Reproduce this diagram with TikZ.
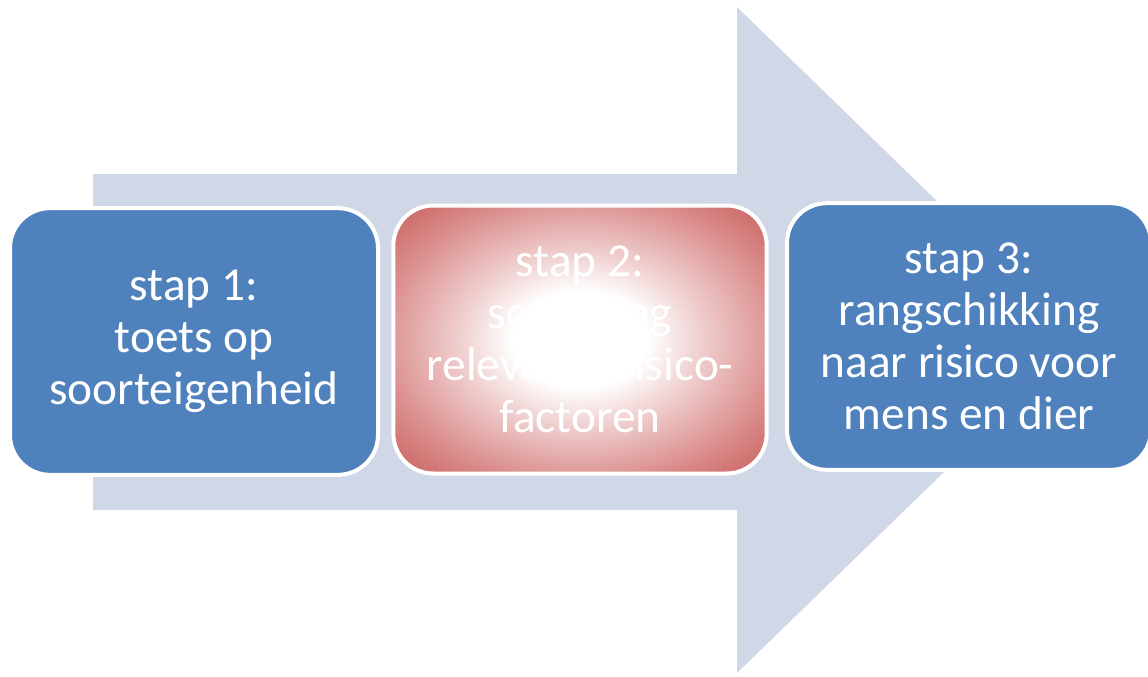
\documentclass[tikz,border=0pt]{standalone}
\usepackage{fontspec}
\setmainfont{Carlito}
\definecolor{arrowgrey}{RGB}{208,216,232}
\definecolor{stapblue}{RGB}{79,129,189}
\definecolor{stapred}{RGB}{194,82,79}
\definecolor{stappink}{RGB}{240,208,208}
\definecolor{staprose}{RGB}{218,140,139}
\pgfdeclareradialshading{stapglow}{\pgfpoint{0bp}{0bp}}{%
  color(0bp)=(white); color(9bp)=(white); color(16bp)=(stappink);
  color(27bp)=(staprose); color(38bp)=(stapred); color(70bp)=(stapred)}
\tikzset{every picture/.style={line width=0.75pt}}
\tikzset{
  stapbox/.style={draw=white, line width=3pt, rounded corners=30pt, text=white,
    align=center, inner sep=0pt, font=\fontsize{35.5}{39}\selectfont},
}

\begin{document}
\begin{tikzpicture}[x=0.75pt,y=0.75pt,yscale=-1,xscale=1]
\useasboundingbox (0,0) rectangle (1148,676);

%Big arrow behind the steps
\fill [arrowgrey] (93,174) -- (737,174) -- (737,7) -- (1080,340) -- (737,673) -- (737,510) -- (93,510) -- cycle ;

% Step 1
\node [stapbox, fill=stapblue, minimum width=276pt, minimum height=200pt] (stap1) at (194,341.5) {stap 1:\\toets op\\soorteigenheid};
% Step 2
\node [stapbox, shading=stapglow, minimum width=280pt, minimum height=201pt] (stap2) at (580,339.5) {stap 2:\\screening\\relevante risico-\\factoren};
% Step 3
\node [stapbox, fill=stapblue, minimum width=273pt, minimum height=200pt] (stap3) at (969,336.5) {stap 3:\\rangschikking\\naar risico voor\\mens en dier};

\end{tikzpicture}
\end{document}
